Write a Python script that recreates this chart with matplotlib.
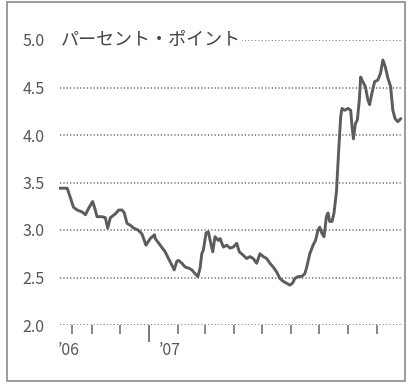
import matplotlib
matplotlib.use("Agg")
import matplotlib.pyplot as plt
from matplotlib.patches import Rectangle
import pandas as pd

plt.rcParams['font.family'] = ['Noto Sans CJK JP', 'DejaVu Sans']

# days after 2007-01-01 and spread in percentage points
days = [-94.6, -87.5, -84, -80.8, -76.8, -71.5, -68, -64.5, -60.3, -58.1,
        -55.6, -50.3, -46.8, -44.3, -41.4, -36.1, -32.6, -29, -26.6, -23.7,
        -20.2, -16.7, -12, -7.8, -3.5, 1.1, 5.6, 6.4, 11.7, 17,
        20.5, 24.1, 26.6, 29.4, 31.1, 34.8, 38.3, 41.8, 45.4, 48.9,
        51.8, 54.2, 56, 57.7, 60.6, 63, 65.6, 67.7, 70.1, 73.6,
        75.5, 79, 82.6, 86.1, 89.6, 93.2, 96, 99.6, 103.8, 107.3,
        110.8, 114.5, 118, 121.5, 125.1, 128.6, 132.1, 135.7, 139.2, 142.7,
        146.3, 149.8, 152.7, 155.2, 158.7, 162.3, 165.8, 167.6, 171.1, 174.6,
        177.2, 179.9, 181.7, 184.2, 186.3, 188.8, 190.5, 192.3, 194.8, 196.9,
        199.5, 201.9, 204, 205.4, 208.3, 211.8, 214.7, 216.1, 217.6, 219.7,
        221.8, 223.9, 225.3, 227.7, 230.3, 233, 234.9, 237.3, 240.2, 243.7,
        246.5, 249, 251.5, 254.3, 257.2, 259.6, 262.1, 264.9, 267.8]
spread = [3.44, 3.44, 3.34, 3.24, 3.21, 3.19, 3.16, 3.23, 3.30, 3.23,
          3.14, 3.14, 3.13, 3.02, 3.13, 3.17, 3.21, 3.21, 3.18, 3.07,
          3.05, 3.02, 3.00, 2.96, 2.84, 2.91, 2.95, 2.91, 2.84, 2.77,
          2.70, 2.63, 2.58, 2.67, 2.68, 2.65, 2.61, 2.60, 2.58, 2.54,
          2.51, 2.60, 2.75, 2.79, 2.97, 2.98, 2.86, 2.77, 2.93, 2.89,
          2.91, 2.82, 2.84, 2.81, 2.82, 2.86, 2.77, 2.74, 2.70, 2.72,
          2.70, 2.65, 2.75, 2.72, 2.70, 2.65, 2.61, 2.56, 2.49, 2.46,
          2.44, 2.42, 2.44, 2.49, 2.51, 2.51, 2.54, 2.60, 2.75, 2.84,
          2.89, 3.00, 3.03, 2.96, 2.93, 3.14, 3.18, 3.09, 3.09, 3.18,
          3.40, 3.84, 4.19, 4.28, 4.26, 4.28, 4.26, 4.09, 3.96, 4.12,
          4.16, 4.37, 4.61, 4.56, 4.51, 4.37, 4.32, 4.44, 4.56, 4.58,
          4.65, 4.79, 4.72, 4.60, 4.51, 4.26, 4.17, 4.14, 4.17]

yticks = [2.0, 2.5, 3.0, 3.5, 4.0, 4.5, 5.0]
ytick_labels = ['2.0', '2.5', '3.0', '3.5', '4.0', '4.5', '5.0']
month_ticks = ['2006-10-11', '2006-11-01', '2006-12-01', '2007-02-01', '2007-03-01',
               '2007-04-01', '2007-05-01', '2007-06-01', '2007-07-01', '2007-08-01',
               '2007-09-01']
year_tick = '2007-01-01'
unit_label = 'パーセント・ポイント'

base = pd.Timestamp('2007-01-01')
dates = base + pd.to_timedelta(days, unit='D')

fig = plt.figure(figsize=(4.09, 3.83), dpi=100)
fig.patches.append(Rectangle((7 / 409, 2 / 383), 398 / 409, 379 / 383,
                             transform=fig.transFigure, fill=False,
                             edgecolor='#8a8a8a', linewidth=1.2))

ax = fig.add_axes([60 / 409, 58 / 383, 341 / 409, 285 / 383])
ax.set_xlim(dates[0] - pd.Timedelta(days=0.5), dates[-1] + pd.Timedelta(days=0.5))
ax.set_ylim(2.0, 5.0)

# dotted grid
for y in yticks:
    ax.axhline(y, color='#6a6a6a', linewidth=1.1, linestyle=(0, (0.8, 1.4)), zorder=1)

ax.plot(dates, spread, color='#5c5c5c', linewidth=2.1, zorder=3,
        solid_joinstyle='round', clip_on=False)

for s in ax.spines.values():
    s.set_visible(False)

ax.set_yticks(yticks)
ax.set_yticklabels(ytick_labels)
ax.tick_params(axis='y', length=0, pad=11, labelsize=11.5, labelcolor='#555555')

ax.set_xticks([pd.Timestamp(year_tick)])
ax.set_xticklabels([])
ax.set_xticks([pd.Timestamp(d) for d in month_ticks], minor=True)
ax.tick_params(axis='x', which='major', length=12.5, width=1.1, color='#555555')
ax.tick_params(axis='x', which='minor', length=6.5, width=1.1, color='#666666')

ax.text(dates[0], 5.0, unit_label, ha='left', va='center', fontsize=13,
        color='#444444', zorder=4,
        bbox=dict(facecolor='white', edgecolor='none', pad=1.0))

ax.annotate('’06', xy=(0, 2.0), xycoords=('axes fraction', 'data'),
            xytext=(-2, -17), textcoords='offset pixels', ha='left', va='top',
            fontsize=11.5, color='#555555')
ax.annotate('’07', xy=(pd.Timestamp(year_tick), 2.0), xytext=(10, -17),
            textcoords='offset pixels', ha='left', va='top',
            fontsize=11.5, color='#555555')

fig.savefig('out.png', dpi=100)
